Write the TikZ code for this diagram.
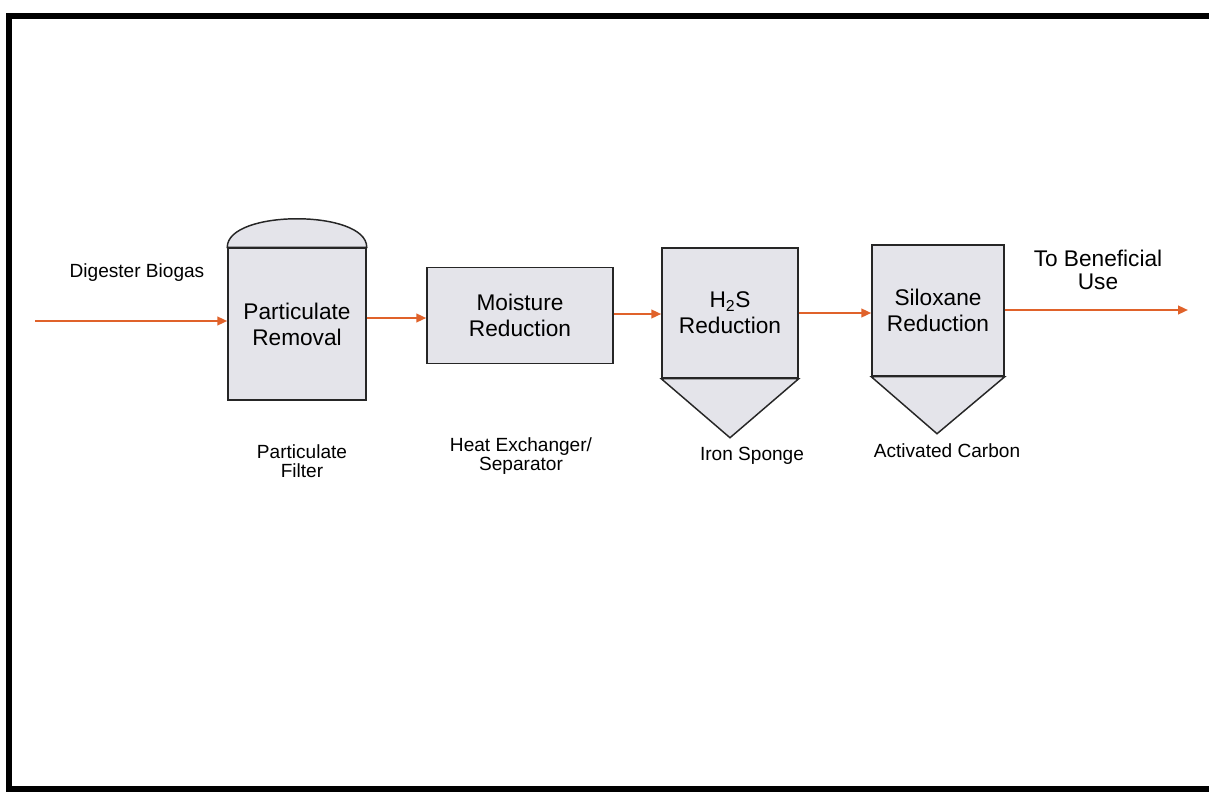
\documentclass[tikz,border=0pt]{standalone}
\usepackage{fontspec}
\setmainfont{Liberation Sans}
\usetikzlibrary{arrows.meta,calc}
\definecolor{vesselfill}{HTML}{E4E4EA}
\definecolor{flowcol}{HTML}{E0622A}
\tikzset{
  vessel/.style={draw=black!85, line width=1.1pt, fill=vesselfill, align=center,
    font=\fontsize{17}{19.5}\selectfont, inner sep=0pt},
  flow/.style={draw=flowcol, line width=1.6pt, -{Triangle[length=7.5pt,width=6.5pt]}},
  lbl/.style={align=center, font=\fontsize{14.3}{14.6}\selectfont, inner sep=0pt},
  bigl/.style={align=center, font=\fontsize{17}{17.5}\selectfont, inner sep=0pt},
  frame/.style={draw=black, line width=3.8pt}
}
\begin{document}
\begin{tikzpicture}[x=0.75pt,y=-0.75pt]
\useasboundingbox (0,0) rectangle (1209,795);
\draw[frame] (1212,16) -- (9,16) -- (9,789) -- (1212,789);

% vessels
\node[vessel, minimum width=138*0.75pt, minimum height=152*0.75pt] (p1) at (297,324) {Particulate\\Removal};
\node[vessel, minimum width=186*0.75pt, minimum height=96*0.75pt] (p2) at (520,315.5) {Moisture\\Reduction};
\node[vessel, minimum width=136*0.75pt, minimum height=130*0.75pt] (p3) at (730,313) {H\textsubscript{2}S\\Reduction};
\node[vessel, minimum width=132*0.75pt, minimum height=131*0.75pt] (p4) at (938,310.5) {Siloxane\\Reduction};

% dome and cones
\draw[draw=black!85, line width=1.1pt, fill=vesselfill]
  (p1.north west) .. controls ($(p1.north west)+(0,-38)$) and ($(p1.north east)+(0,-38)$) .. (p1.north east) -- cycle;
\draw[draw=black!85, line width=1.1pt, fill=vesselfill]
  (p3.south west) -- (p3.south east) -- ($(p3.south)+(0,59)$) -- cycle;
\draw[draw=black!85, line width=1.1pt, fill=vesselfill]
  (p4.south west) -- (p4.south east) -- ($(p4.south)+(-1,57)$) -- cycle;

% flow
\coordinate (in) at (35,321);
\coordinate (out) at (1188,310);
\draw[flow] (in) -- (p1.west |- in);
\draw[flow] (p1.east |- 0,318) -- (p2.west |- 0,318);
\draw[flow] (p2.east |- 0,314) -- (p3.west |- 0,314);
\draw[flow] (p3.east |- 0,313) -- (p4.west |- 0,313);
\draw[flow] (p4.east |- out) -- (out);

% labels
\node[lbl] (l0) at (137,273) {Digester Biogas};
\node[lbl] (l1) at (302,461) {Particulate\\Filter};
\node[lbl] (l2) at (521,456) {Heat Exchanger/\\Separator};
\node[lbl] (l3) at (752,456) {Iron Sponge};
\node[lbl] (l4) at (947,451) {Activated Carbon};
\node[bigl] (l5) at (1098,270) {To Beneficial\\Use};
\end{tikzpicture}
\end{document}
